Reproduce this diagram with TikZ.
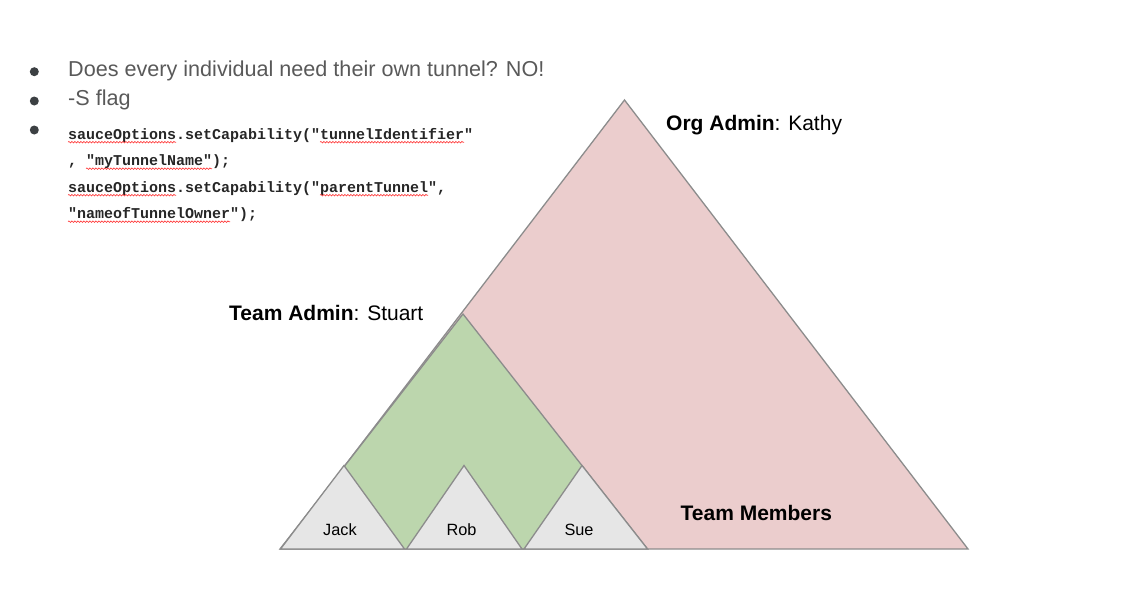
\documentclass[tikz,border=0pt]{standalone}
\usepackage{fontspec}
\setmainfont{Liberation Sans}
\newfontfamily\codefont{Liberation Mono}
\usetikzlibrary{calc,decorations.pathmorphing}

\definecolor{orgfill}{HTML}{EBCDCD}
\definecolor{teamfill}{HTML}{BCD6AD}
\definecolor{memberfill}{HTML}{E6E6E6}
\definecolor{edgegray}{HTML}{8C8C8C}
\definecolor{bullettext}{HTML}{595959}
\definecolor{bulletdot}{HTML}{3C4043}
\definecolor{codetext}{HTML}{262626}

\tikzset{
  tri/.style={draw=edgegray, line width=1.3pt, line join=miter},
  bullettxt/.style={anchor=base west, inner sep=0pt, text=bullettext,
    font=\fontsize{21.6}{24}\selectfont},
  codetxt/.style={anchor=base west, inner sep=0pt, text=codetext,
    font=\codefont\bfseries\fontsize{15}{18}\selectfont},
  dot/.style={circle, fill=bulletdot, inner sep=0pt, minimum size=9pt},
  lbl/.style={anchor=base west, inner sep=0pt, font=\fontsize{21}{24}\selectfont},
  member/.style={anchor=base, inner sep=0pt, font=\fontsize{16.3}{19}\selectfont},
  spell/.style={draw=red!80, line width=0.6pt,
    decorate, decoration={snake, amplitude=0.8pt, segment length=3pt}}
}

% wavy spell-check mark under characters #2..#3 of code line #1
\newcommand\spellmark[3]{%
  \draw[spell] ($(#1.base west)+(#2*9,3.2)$) -- ($(#1.base west)+(#3*9,3.2)$);}

\begin{document}
\begin{tikzpicture}[x=1pt, y=-1pt]
  \useasboundingbox (0,0) rectangle (1126,592);

  % bullet list
  \node[dot] (b1) at (34.3,71.7) {};
  \node[dot] (b2) at (34.3,101) {};
  \node[dot] (b3) at (34.3,130) {};
  \node[bullettxt] (t1) at (68,76) {Does every individual need their own tunnel? NO!};
  \node[bullettxt] (t2) at (68,105.5) {-S flag};
  \node[codetxt] (c1) at (68,139) {sauceOptions.setCapability("tunnelIdentifier"};
  \node[codetxt] (c2) at (68,165.5) {, "myTunnelName");};
  \node[codetxt] (c3) at (68,192) {sauceOptions.setCapability("parentTunnel",};
  \node[codetxt] (c4) at (68,218.5) {"nameofTunnelOwner");};
  \spellmark{c1}{0}{12}
  \spellmark{c1}{28}{44}
  \spellmark{c2}{2}{16}
  \spellmark{c3}{0}{12}
  \spellmark{c3}{28}{40}
  \spellmark{c4}{0}{18}

  % organisation, team and member triangles
  \coordinate (orgL) at (281,549);
  \coordinate (orgT) at (624.5,100);
  \coordinate (orgR) at (968,549);
  \filldraw[tri, fill=orgfill] (orgL) -- (orgT) -- (orgR) -- cycle;

  \coordinate (teamL) at (280,549);
  \coordinate (teamT) at (463,314);
  \coordinate (teamR) at (647.5,549);
  \filldraw[tri, fill=teamfill] (teamL) -- (teamT) -- (teamR) -- cycle;

  \filldraw[tri, fill=memberfill] (280.5,549) coordinate (jackL) -- (344,465.5) coordinate (jackT) -- (404.5,549) coordinate (jackR) -- cycle;
  \filldraw[tri, fill=memberfill] (406.5,549) coordinate (robL) -- (464,465.5) coordinate (robT) -- (522,549) coordinate (robR) -- cycle;
  \filldraw[tri, fill=memberfill] (524,549) coordinate (sueL) -- (582,465.5) coordinate (sueT) -- (647.5,549) coordinate (sueR) -- cycle;

  % labels
  \node[lbl] (org) at (666,130) {\textbf{Org Admin}: Kathy};
  \node[lbl] (team) at (229,320) {\textbf{Team Admin}: Stuart};
  \node[lbl] (members) at (680.5,520) {\textbf{Team Members}};
  \node[member] (jack) at (340,535) {Jack};
  \node[member] (rob) at (461.5,535) {Rob};
  \node[member] (sue) at (579,535) {Sue};
\end{tikzpicture}
\end{document}
